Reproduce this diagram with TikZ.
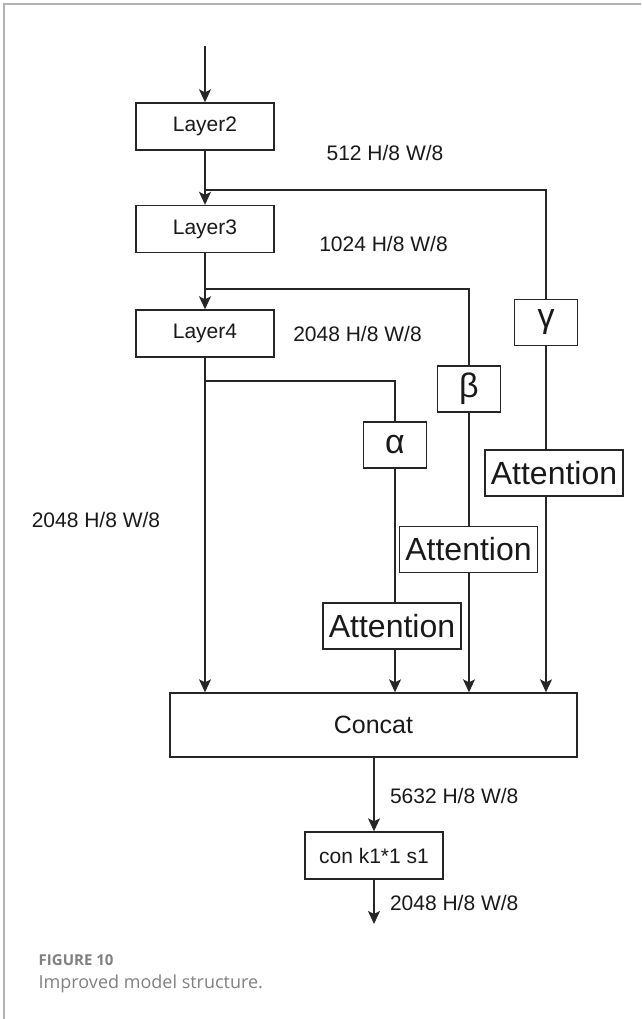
\documentclass[tikz,border=0pt]{standalone}
\usepackage{fontspec}
\setmainfont{Liberation Sans}
\newfontfamily\capfont{Open Sans}
\usetikzlibrary{arrows.meta}

\begin{document}
\begin{tikzpicture}[x=1pt, y=-1pt, >={Stealth[length=13pt,width=12pt,inset=3pt]}, line width=1.4pt, black!85,
  box/.style={draw, minimum width=138pt, minimum height=47pt, inner sep=0pt, text=black!90, font=\fontsize{21}{25}\selectfont},
  greek/.style={draw, minimum width=63pt, minimum height=46pt, inner sep=0pt, text=black!90, font=\fontsize{34}{38}\selectfont},
  attn/.style={draw, minimum width=138pt, minimum height=46pt, inner sep=0pt, text=black!90, font=\fontsize{32}{36}\selectfont},
  dim/.style={text=black!90, font=\fontsize{21}{25}\selectfont}]
  \useasboundingbox (0,0) rectangle (641,1019);

  % 1. frame
  \draw[gray!60, line width=1.5pt] (641,4) -- (4,4) -- (4,1019);

  % 2. backbone
  \coordinate (in) at (205,46);
  \node[box] (L2) at (205,126.5) {Layer2};
  \node[box] (L3) at (205,229) {Layer3};
  \node[box] (L4) at (205,333.5) {Layer4};
  \coordinate (jg) at (205,190);
  \coordinate (jb) at (205,289);
  \coordinate (ja) at (205,381);
  \draw[->] (in) -- (L2.north);
  \draw[->] (L2.south) -- (L3.north);
  \draw[->] (L3.south) -- (L4.north);

  % 3. weights and attention blocks
  \node[greek] (g) at (546,322.5) {γ};
  \node[greek] (b) at (469,389) {β};
  \node[greek] (a) at (395,445) {α};
  \node[attn] (ag) at (554,473) {Attention};
  \node[attn] (ab) at (468.5,549.5) {Attention};
  \node[attn] (aa) at (392,626) {Attention};
  \draw (jg) -| (g.north);
  \draw (jb) -| (b.north);
  \draw (ja) -| (a.north);
  \draw (g.south) -- (g.south |- ag.north);
  \draw (b.south) -- (b.south |- ab.north);
  \draw (a.south) -- (a.south |- aa.north);

  % 4. concat and output
  \node[box, minimum width=407pt, minimum height=64pt, font=\fontsize{25}{29}\selectfont] (cat) at (373.5,725) {Concat};
  \node[box] (conv) at (374,855.5) {con k1*1 s1};
  \coordinate (out) at (374,924);
  \draw[->] (L4.south) -- (L4.south |- cat.north);
  \draw[->] (a.south |- aa.south) -- (a.south |- cat.north);
  \draw[->] (b.south |- ab.south) -- (b.south |- cat.north);
  \draw[->] (g.south |- ag.south) -- (g.south |- cat.north);
  \draw[->] (cat.south -| conv.north) -- (conv.north);
  \draw[->] (conv.south) -- (out);

  % 5. feature sizes
  \node[dim] (d2) at (385,153) {512 H/8 W/8};
  \node[dim] (d3) at (383.5,244) {1024 H/8 W/8};
  \node[dim] (d4) at (357.5,334) {2048 H/8 W/8};
  \node[dim] (dl) at (96,520) {2048 H/8 W/8};
  \node[dim, anchor=west] (dc) at (386,796) {5632 H/8 W/8};
  \node[dim, anchor=west] (do) at (386,903) {2048 H/8 W/8};

  % 6. caption
  \node[anchor=base west, inner sep=0pt, text=gray, font=\capfont\fontsize{15}{18}\selectfont\bfseries] (fig) at (38,965) {FIGURE 10};
  \node[anchor=base west, inner sep=0pt, text=gray, font=\capfont\fontsize{18}{22}\selectfont] (cap) at (38,988) {Improved model structure.};
\end{tikzpicture}
\end{document}
